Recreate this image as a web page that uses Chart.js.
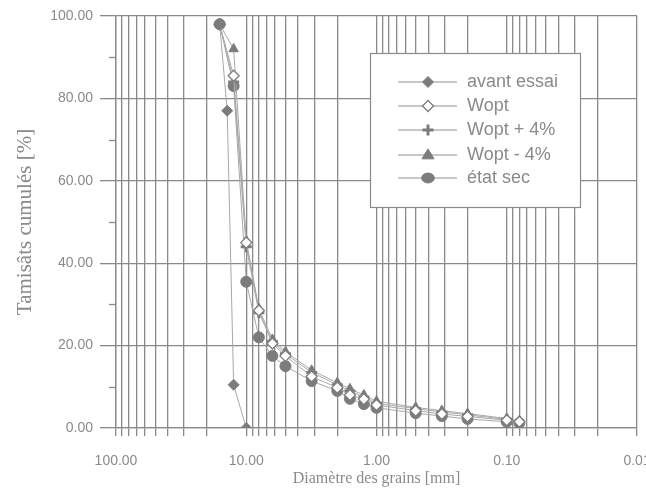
<!DOCTYPE html>
<html><head><meta charset="utf-8">
<script src="https://cdn.jsdelivr.net/npm/chart.js@4/dist/chart.umd.min.js"></script>
<style>html,body{margin:0;padding:0;background:#fff;overflow:hidden}
#wrap{width:646px;height:492px;position:relative}</style>
</head><body><div id="wrap"><canvas id="c" width="646" height="492"></canvas></div>
<script>
// ---- data ----
const sieves = [16, 12.5, 10, 8, 6.3, 5, 3.15, 2, 1.6, 1.25, 1, 0.5, 0.315, 0.2, 0.1, 0.08];
const avantSieves = [16, 14, 12.5, 10];
const avantEssai = [98, 77, 10.5, 0];
const wopt      = [98, 85.5, 45, 28.5, 20.5, 17.5, 12.5, 9.8, 8, 7, 5.6, 4.2, 3.4, 2.8, 1.9, 1.5];
const woptPlus  = [98, 84, 44, 28, 21, 18, 13.5, 10.5, 9, 7.5, 6, 4.7, 3.9, 3.2, 2.1, 1.6];
const woptMinus = [98, 92, 45.5, 29, 21.5, 18.5, 14, 11, 9.5, 8, 6.5, 5, 4.2, 3.5, 2.3, 1.8];
const etatSec   = [98, 83, 35.5, 22, 17.5, 15, 11.4, 9, 7.1, 5.8, 4.9, 3.6, 2.9, 2.2, 1.5, 1.2];
const seriesNames = ['avant essai', 'Wopt', 'Wopt + 4%', 'Wopt - 4%', 'état sec'];
const yMajorTicks = [0, 20, 40, 60, 80, 100];
const yMinorTicks = [10, 30, 50, 70, 90];

// ---- helpers ----
const pts = (xs, ys) => xs.map((x, i) => ({x: x, y: ys[i]}));
const xTickValues = [];
for (let e = -2; e <= 1; e++) for (let m = 1; m <= 9; m++) xTickValues.push(Number((m * Math.pow(10, e)).toPrecision(3)));
xTickValues.push(100);
const isDecade = v => Math.abs(Math.log10(v) - Math.round(Math.log10(v))) < 1e-9;

const GRID = '#8a8a8a', TXT = '#8a8a8a', LINE = '#a8a8a8', MARK = '#7c7c7c';
const styles = [
  {pointStyle: 'rectRot', radius: 5.5, bg: MARK, bc: MARK, bw: 1},
  {pointStyle: 'rectRot', radius: 5.5, bg: '#ffffff', bc: MARK, bw: 1.3},
  {pointStyle: 'cross', radius: 5.5, bg: MARK, bc: MARK, bw: 3},
  {pointStyle: 'triangle', radius: 5.5, bg: MARK, bc: MARK, bw: 1},
  {pointStyle: 'circle', radius: 5.5, bg: MARK, bc: MARK, bw: 1}
];
const seriesData = [pts(avantSieves, avantEssai), pts(sieves, wopt), pts(sieves, woptPlus), pts(sieves, woptMinus), pts(sieves, etatSec)];

const datasets = seriesNames.map((n, i) => ({
  label: n,
  data: seriesData[i],
  borderColor: LINE,
  borderWidth: 1,
  pointStyle: styles[i].pointStyle,
  pointRadius: styles[i].radius,
  pointBackgroundColor: styles[i].bg,
  pointBorderColor: styles[i].bc,
  pointBorderWidth: styles[i].bw,
  tension: 0,
  fill: false
}));

function drawMarker(ctx, st, x, y) {
  const r = st.radius;
  ctx.save();
  ctx.fillStyle = st.bg; ctx.strokeStyle = st.bc; ctx.lineWidth = st.bw;
  ctx.beginPath();
  if (st.pointStyle === 'rectRot') {
    ctx.moveTo(x, y - r); ctx.lineTo(x + r, y); ctx.lineTo(x, y + r); ctx.lineTo(x - r, y); ctx.closePath();
    ctx.fill(); ctx.stroke();
  } else if (st.pointStyle === 'cross') {
    ctx.moveTo(x - r, y); ctx.lineTo(x + r, y); ctx.moveTo(x, y - r); ctx.lineTo(x, y + r); ctx.stroke();
  } else if (st.pointStyle === 'triangle') {
    ctx.moveTo(x, y - r * 1.1); ctx.lineTo(x + r * 1.1, y + r * 0.7); ctx.lineTo(x - r * 1.1, y + r * 0.7); ctx.closePath();
    ctx.fill(); ctx.stroke();
  } else {
    ctx.ellipse(x, y, r * 1.15, r * 0.9, 0, 0, Math.PI * 2); ctx.fill(); ctx.stroke();
  }
  ctx.restore();
}

const customPlugin = {
  id: 'custom',
  afterDraw(chart) {
    const ctx = chart.ctx, ys = chart.scales.y, ca = chart.chartArea;
    ctx.save();
    ctx.strokeStyle = GRID; ctx.lineWidth = 1.3;
    yMinorTicks.forEach(v => {
      const py = Math.round(ys.getPixelForValue(v)) + 0.5;
      ctx.beginPath(); ctx.moveTo(ca.left - 7, py); ctx.lineTo(ca.left, py); ctx.stroke();
    });
    // legend box
    const bx = 370, by = 53, bw = 210, bh = 154;
    ctx.fillStyle = '#ffffff'; ctx.fillRect(bx, by, bw, bh);
    ctx.strokeStyle = '#8a8a8a'; ctx.lineWidth = 1.2; ctx.strokeRect(bx + 0.5, by + 0.5, bw, bh);
    ctx.font = '18px "Liberation Sans", Arial, sans-serif';
    ctx.textBaseline = 'middle'; ctx.textAlign = 'left'; ctx.fillStyle = TXT;
    const rows = [82, 106, 130, 155, 178];
    seriesNames.forEach((n, i) => {
      const yy = rows[i];
      ctx.strokeStyle = '#909090'; ctx.lineWidth = 1.2;
      ctx.beginPath(); ctx.moveTo(398, yy); ctx.lineTo(457, yy); ctx.stroke();
      drawMarker(ctx, styles[i], 428, yy);
      ctx.fillStyle = TXT;
      ctx.fillText(n, 467, yy);
    });
    ctx.restore();
  }
};

new Chart(document.getElementById('c'), {
  type: 'line',
  data: {datasets: datasets},
  plugins: [customPlugin],
  options: {
    responsive: false,
    animation: false,
    plugins: {legend: {display: false}, tooltip: {enabled: false}},
    layout: {padding: {top: 16, right: 9, left: 0, bottom: 0}},
    scales: {
      x: {
        type: 'logarithmic', reverse: true, min: 0.01, max: 100,
        afterBuildTicks: s => { s.ticks = xTickValues.map(v => ({value: v})); },
        afterFit: s => { s.paddingRight = 0; s.paddingLeft = 0; s.height = 64; },
        grid: {color: GRID, lineWidth: 1.3, tickLength: 8, tickColor: GRID},
        border: {color: GRID, width: 1.3},
        ticks: {
          autoSkip: false, maxRotation: 0, minRotation: 0, padding: 17, color: TXT,
          font: {family: '"Liberation Sans", Arial, sans-serif', size: 14},
          callback: v => isDecade(v) ? Number(v).toFixed(2) : ''
        },
        title: {display: true, text: 'Diamètre des grains [mm]', color: TXT,
          font: {family: '"Liberation Serif", "Times New Roman", serif', size: 16}, padding: {top: 0, bottom: 4}}
      },
      y: {
        type: 'linear', min: 0, max: 100,
        afterBuildTicks: s => { s.ticks = yMajorTicks.map(v => ({value: v})); },
        afterFit: s => { s.width = 116; },
        grid: {color: GRID, lineWidth: 1.3, tickLength: 16, tickColor: GRID},
        border: {color: GRID, width: 1.3},
        ticks: {
          padding: 7, color: TXT,
          font: {family: '"Liberation Sans", Arial, sans-serif', size: 14},
          callback: v => Number(v).toFixed(2)
        },
        title: {display: true, text: 'Tamisâts cumulés [%]', color: TXT,
          font: {family: '"Liberation Serif", "Times New Roman", serif', size: 21}, padding: {top: 13, bottom: 0}}
      }
    }
  }
});
</script></body></html>
